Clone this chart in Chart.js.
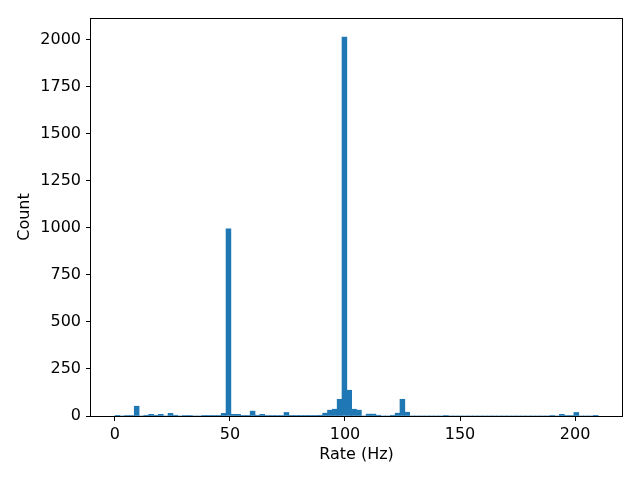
<!DOCTYPE html>
<html><head><meta charset="utf-8">
<script src="https://cdn.jsdelivr.net/npm/chart.js@4"></script>
<style>html,body{margin:0;padding:0;background:#fff;overflow:hidden}</style>
</head><body>
<canvas id="c" width="640" height="480" style="width:640px;height:480px"></canvas>
<script>
// Histogram bins: 100 bins starting at 0 Hz, width 2.1 Hz
const binStart = 0;
const binWidth = 2.1;
const counts = [
  1, 0, 3, 3, 52, 0, 4, 9, 4, 9,
  0, 14, 4, 0, 3, 3, 0, 0, 2, 2,
  2, 2, 14, 995, 9, 9, 2, 2, 26, 4,
  9, 3, 3, 3, 3, 19, 2, 2, 2, 2,
  2, 2, 4, 15, 31, 36, 89, 2015, 137, 36,
  31, 0, 10, 10, 4, 0, 0, 4, 15, 89,
  20, 0, 0, 0, 0, 0, 0, 0, 3, 0,
  0, 0, 0, 0, 0, 0, 0, 0, 0, 0,
  0, 0, 0, 0, 0, 0, 0, 0, 0, 0,
  3, 0, 9, 3, 3, 19, 0, 0, 0, 1
];
const xTicks = [0, 50, 100, 150, 200];
const yTicks = [0, 250, 500, 750, 1000, 1250, 1500, 1750, 2000];
const xLabel = 'Rate (Hz)';
const yLabel = 'Count';

const points = counts.map((c, i) => ({ x: binStart + binWidth * (i + 0.5), y: c }));

const FONT = { family: 'DejaVu Sans', size: 16 };

const framePlugin = {
  id: 'frame',
  afterDraw(chart) {
    const a = chart.chartArea, ctx = chart.ctx;
    ctx.save();
    ctx.strokeStyle = '#000';
    ctx.lineWidth = 1;
    ctx.strokeRect(Math.round(a.left) - 0.5, Math.round(a.top) + 0.5, Math.round(a.right - a.left) + 1, Math.round(a.bottom - a.top));
    ctx.restore();
  }
};

new Chart(document.getElementById('c'), {
  type: 'bar',
  data: {
    datasets: [{
      data: points,
      backgroundColor: '#1f77b4',
      borderWidth: 0,
      barPercentage: 1.0,
      categoryPercentage: 1.0,
      grouped: false
    }]
  },
  options: {
    responsive: false,
    devicePixelRatio: 1,
    animation: false,
    layout: { padding: { top: 18, right: 18, left: 0, bottom: 0 } },
    plugins: { legend: { display: false }, tooltip: { enabled: false } },
    scales: {
      x: {
        type: 'linear',
        offset: false,
        min: -10.4,
        max: 220.4,
        afterFit(s) { s.height = 64; },
        afterBuildTicks(s) { s.ticks = xTicks.map(v => ({ value: v })); },
        border: { display: false },
        grid: { offset: false, drawOnChartArea: false, drawTicks: true, tickLength: 5, color: '#000', tickColor: '#000' },
        ticks: { color: '#000', font: FONT, padding: 4, maxRotation: 0, autoSkip: false, callback: v => String(v) },
        title: { display: true, text: xLabel, color: '#000', font: FONT, padding: { top: 0, bottom: 16 } }
      },
      y: {
        type: 'linear',
        min: 0,
        max: 2116,
        afterFit(s) { s.width = 91; },
        afterBuildTicks(s) { s.ticks = yTicks.map(v => ({ value: v })); },
        border: { display: false },
        grid: { drawOnChartArea: false, drawTicks: true, tickLength: 5, color: '#000', tickColor: '#000' },
        ticks: { color: '#000', font: FONT, padding: 5, autoSkip: false, callback: v => String(v) },
        title: { display: true, text: yLabel, color: '#000', font: FONT, padding: { top: 15, bottom: 0 } }
      }
    }
  },
  plugins: [framePlugin]
});
</script>
</body></html>
